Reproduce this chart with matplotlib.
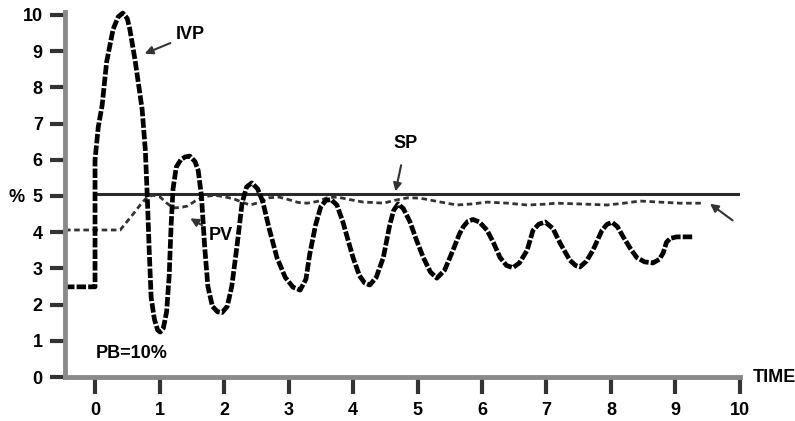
import matplotlib.pyplot as plt

plt.rcParams['font.family'] = ['Liberation Sans', 'DejaVu Sans']
plt.rcParams['font.weight'] = 'bold'

# IVP (valve position)
ivp_t = [-0.465, 0.0, 0.0, 0.05, 0.11, 0.18, 0.28, 0.36, 0.43, 0.5, 0.54, 0.62, 0.73, 0.78,
         0.81, 0.84, 0.87, 0.92, 0.97, 1.01, 1.06, 1.11, 1.15, 1.18, 1.21, 1.26, 1.33, 1.4,
         1.47, 1.55, 1.6, 1.65, 1.7, 1.75, 1.82, 1.9, 1.97, 2.05, 2.12, 2.2, 2.28, 2.35,
         2.43, 2.52, 2.6, 2.7, 2.82, 2.95, 3.07, 3.18, 3.27, 3.33, 3.42, 3.5, 3.58, 3.66,
         3.75, 3.84, 3.92, 4.0, 4.1, 4.18, 4.26, 4.36, 4.47, 4.57, 4.63, 4.7, 4.78, 4.88,
         4.98, 5.09, 5.2, 5.3, 5.42, 5.55, 5.65, 5.71, 5.78, 5.86, 5.96, 6.08, 6.18, 6.28,
         6.38, 6.48, 6.58, 6.7, 6.79, 6.88, 6.98, 7.1, 7.21, 7.36, 7.45, 7.52, 7.62, 7.72,
         7.86, 7.94, 8.02, 8.1, 8.19, 8.3, 8.4, 8.52, 8.65, 8.75, 8.81, 8.86, 8.92, 9.02, 9.26]
ivp_v = [2.49, 2.49, 6.0, 6.9, 7.5, 8.7, 9.6, 9.95, 10.05, 9.9, 9.6, 8.76, 7.4, 6.27,
         5.0, 3.5, 2.2, 1.6, 1.3, 1.24, 1.35, 1.8, 2.8, 4.2, 5.2, 5.8, 6.0, 6.08,
         6.1, 5.95, 5.7, 5.0, 3.6, 2.5, 1.95, 1.8, 1.78, 1.95, 2.5, 3.6, 4.8, 5.25,
         5.36, 5.2, 4.85, 4.1, 3.3, 2.75, 2.48, 2.4, 2.7, 3.4, 4.2, 4.7, 4.88, 4.9,
         4.75, 4.3, 3.8, 3.3, 2.8, 2.6, 2.54, 2.75, 3.3, 4.2, 4.6, 4.78, 4.65, 4.3,
         3.8, 3.3, 2.9, 2.73, 2.95, 3.5, 3.95, 4.15, 4.3, 4.35, 4.28, 4.05, 3.7, 3.3,
         3.08, 3.02, 3.15, 3.5, 4.05, 4.22, 4.28, 4.1, 3.7, 3.23, 3.08, 3.04, 3.2, 3.5,
         4.05, 4.22, 4.27, 4.15, 3.87, 3.55, 3.3, 3.18, 3.15, 3.25, 3.43, 3.72, 3.83, 3.87, 3.87]

# PV (process variable)
pv_t = [-0.465, 0.39, 0.5, 0.6, 0.7, 0.81, 0.9, 1.01, 1.1, 1.21, 1.32, 1.43, 1.58, 1.7,
        1.85, 2.0, 2.15, 2.25, 2.4, 2.55, 2.7, 2.85, 3.0, 3.15, 3.29, 3.45, 3.6, 3.75,
        3.95, 4.16, 4.3, 4.47, 4.65, 4.85, 5.04, 5.3, 5.61, 5.85, 6.08, 6.4, 6.7, 6.95,
        7.16, 7.5, 7.94, 8.2, 8.45, 8.75, 9.07, 9.43]
pv_v = [4.06, 4.06, 4.3, 4.52, 4.75, 4.97, 5.02, 4.97, 4.82, 4.67, 4.68, 4.72, 4.89, 4.98,
        5.02, 4.98, 4.92, 4.85, 4.75, 4.82, 4.95, 4.97, 4.9, 4.82, 4.8, 4.85, 4.95, 4.97,
        4.9, 4.83, 4.82, 4.8, 4.88, 4.95, 4.94, 4.85, 4.75, 4.78, 4.83, 4.8, 4.75, 4.77,
        4.8, 4.78, 4.75, 4.8, 4.86, 4.83, 4.8, 4.8]

# SP (set point)
sp_t = [0.0, 10.0]
sp_v = [5.05, 5.05]

x_ticks = [0, 1, 2, 3, 4, 5, 6, 7, 8, 9, 10]
y_ticks = [0, 1, 2, 3, 4, 5, 6, 7, 8, 9, 10]

fig = plt.figure(figsize=(7.95, 4.21), dpi=100)
ax = fig.add_axes([0.0818, 0.1045, 0.849, 0.867])

ax.plot(sp_t, sp_v, color='#2a2a2a', lw=2.2, solid_capstyle='butt')
ax.plot(pv_t, pv_v, color='#333333', lw=2.0, linestyle=(0, (2, 1.3)), clip_on=False)
ax.plot(ivp_t, ivp_v, color='black', lw=3.4, linestyle=(0, (2, 0.45)), clip_on=False)

ax.set_xlim(-0.465, 10)
ax.set_ylim(0, 10.08)
ax.set_xticks(x_ticks)
ax.set_yticks(y_ticks)
ax.set_xticklabels([str(v) for v in x_ticks], fontweight='bold')
ax.set_yticklabels([str(v) for v in y_ticks], fontweight='bold')

for s in ['top', 'right']:
    ax.spines[s].set_visible(False)
for s in ['left', 'bottom']:
    ax.spines[s].set_color('#8a8a8a')
    ax.spines[s].set_linewidth(3.5)

ax.tick_params(axis='x', direction='out', length=12, width=3, color='#333333',
               pad=6, labelsize=13)
ax.tick_params(axis='y', direction='out', length=11, width=3, color='#333333',
               pad=5, labelsize=13)

ann = dict(arrowstyle='-|>', color='#333333', lw=1.5, mutation_scale=12)
ax.annotate('IVP', xy=(0.73, 8.9), xytext=(1.25, 9.45), fontsize=13, fontweight='bold',
            va='center', ha='left', arrowprops=ann)
ax.annotate('SP', xy=(4.65, 5.05), xytext=(4.82, 6.46), fontsize=13, fontweight='bold',
            va='center', ha='center', arrowprops=dict(ann, shrinkA=8))
ax.annotate('', xy=(1.44, 4.42), xytext=(1.7, 4.15), arrowprops=ann)
ax.text(1.95, 3.92, 'PV', fontsize=13, fontweight='bold', va='center', ha='center')
ax.annotate('', xy=(9.5, 4.83), xytext=(9.92, 4.28), arrowprops=ann)

ax.text(0.57, 0.66, 'PB=10%', fontsize=13, fontweight='bold', va='center', ha='center')
ax.text(10.2, 0.0, 'TIME', fontsize=13, fontweight='bold', va='center', ha='left',
        clip_on=False)
fig.text(17 / 795, 1 - 197 / 421, '%', fontsize=13, fontweight='bold',
         va='center', ha='center')

fig.savefig('out.png', dpi=100)
